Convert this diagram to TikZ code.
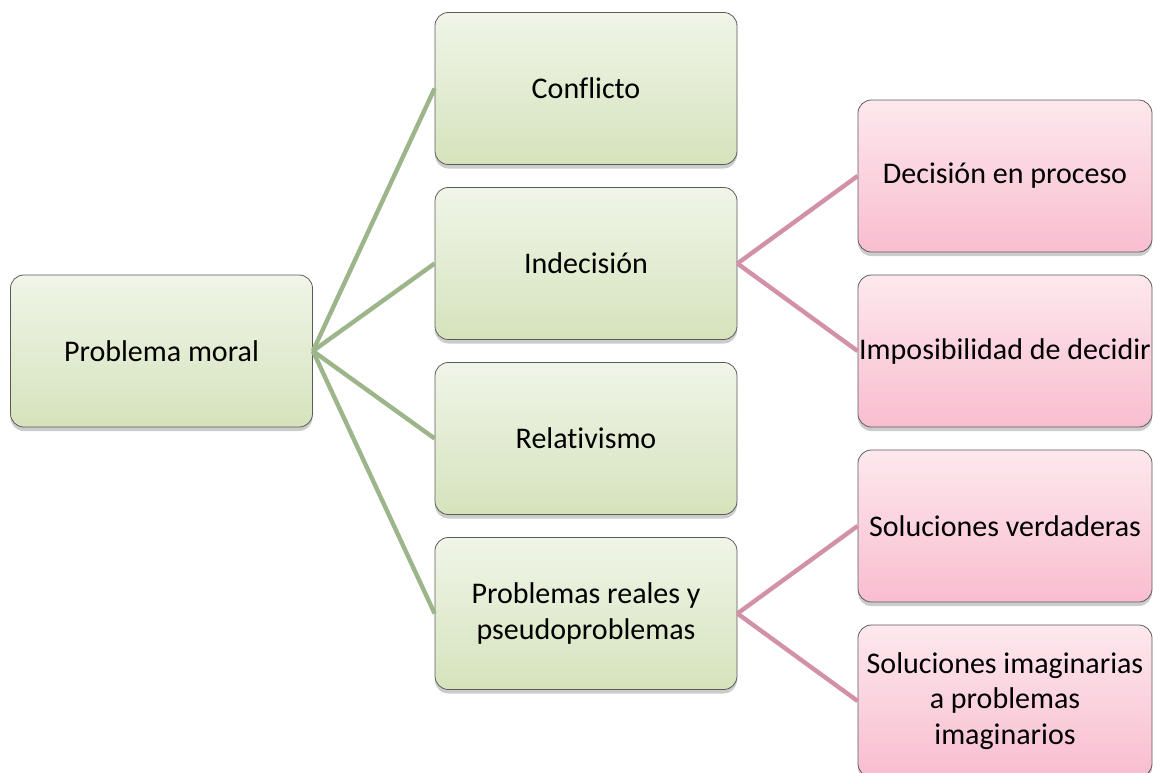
\documentclass[tikz,border=0pt]{standalone}
\usepackage{fontspec}
\setmainfont{Carlito}[Ligatures={NoCommon,NoContextual}]
\usepackage{tikz}
\usetikzlibrary{shadows}
\definecolor{leafgreen}{HTML}{9DB58A}
\definecolor{leafpink}{HTML}{D291A8}
\definecolor{boxedge}{HTML}{5A5A5A}
\definecolor{greentop}{HTML}{F0F5E8}
\definecolor{greenbot}{HTML}{D5E3BC}
\definecolor{pinktop}{HTML}{FDE8EE}
\definecolor{pinkbot}{HTML}{F9BDD0}

\begin{document}
\begin{tikzpicture}[x=0.75pt,y=-0.75pt,
  gbox/.style={draw=boxedge,line width=0.6pt,rounded corners=10pt,top color=greentop,bottom color=greenbot,
    minimum width=226.5pt,minimum height=114pt,inner sep=0pt,align=center,
    font=\fontsize{22.5}{26.5}\selectfont,
    drop shadow={opacity=0.4,shadow xshift=0pt,shadow yshift=-3pt}},
  pbox/.style={gbox,top color=pinktop,bottom color=pinkbot,minimum width=220.5pt},
  glink/.style={leafgreen,line width=3.3pt},
  plink/.style={leafpink,line width=3.3pt}]
\useasboundingbox (0,0) rectangle (1153,772);
\node[gbox] (moral) at (161.5,351) {Problema moral};
\node[gbox] (conflicto) at (586,88.5) {Conflicto};
\node[gbox] (indecision) at (586,263.5) {Indecisión};
\node[gbox] (relativismo) at (586,438.5) {Relativismo};
\node[gbox] (reales) at (586,613.5) {Problemas reales y\\pseudoproblemas};
\node[pbox] (proceso) at (1005,176) {Decisión en proceso};
\node[pbox] (imposible) at (1005,351) {Imposibilidad de decidir};
\node[pbox] (verdaderas) at (1005,526) {Soluciones verdaderas};
\node[pbox] (imaginarias) at (1005,701) {Soluciones imaginarias\\a problemas\\imaginarios};
\draw[glink] (moral.east) -- (conflicto.west);
\draw[glink] (moral.east) -- (indecision.west);
\draw[glink] (moral.east) -- (relativismo.west);
\draw[glink] (moral.east) -- (reales.west);
\draw[plink] (indecision.east) -- (proceso.west);
\draw[plink] (indecision.east) -- (imposible.west);
\draw[plink] (reales.east) -- (verdaderas.west);
\draw[plink] (reales.east) -- (imaginarias.west);
\end{tikzpicture}
\end{document}
